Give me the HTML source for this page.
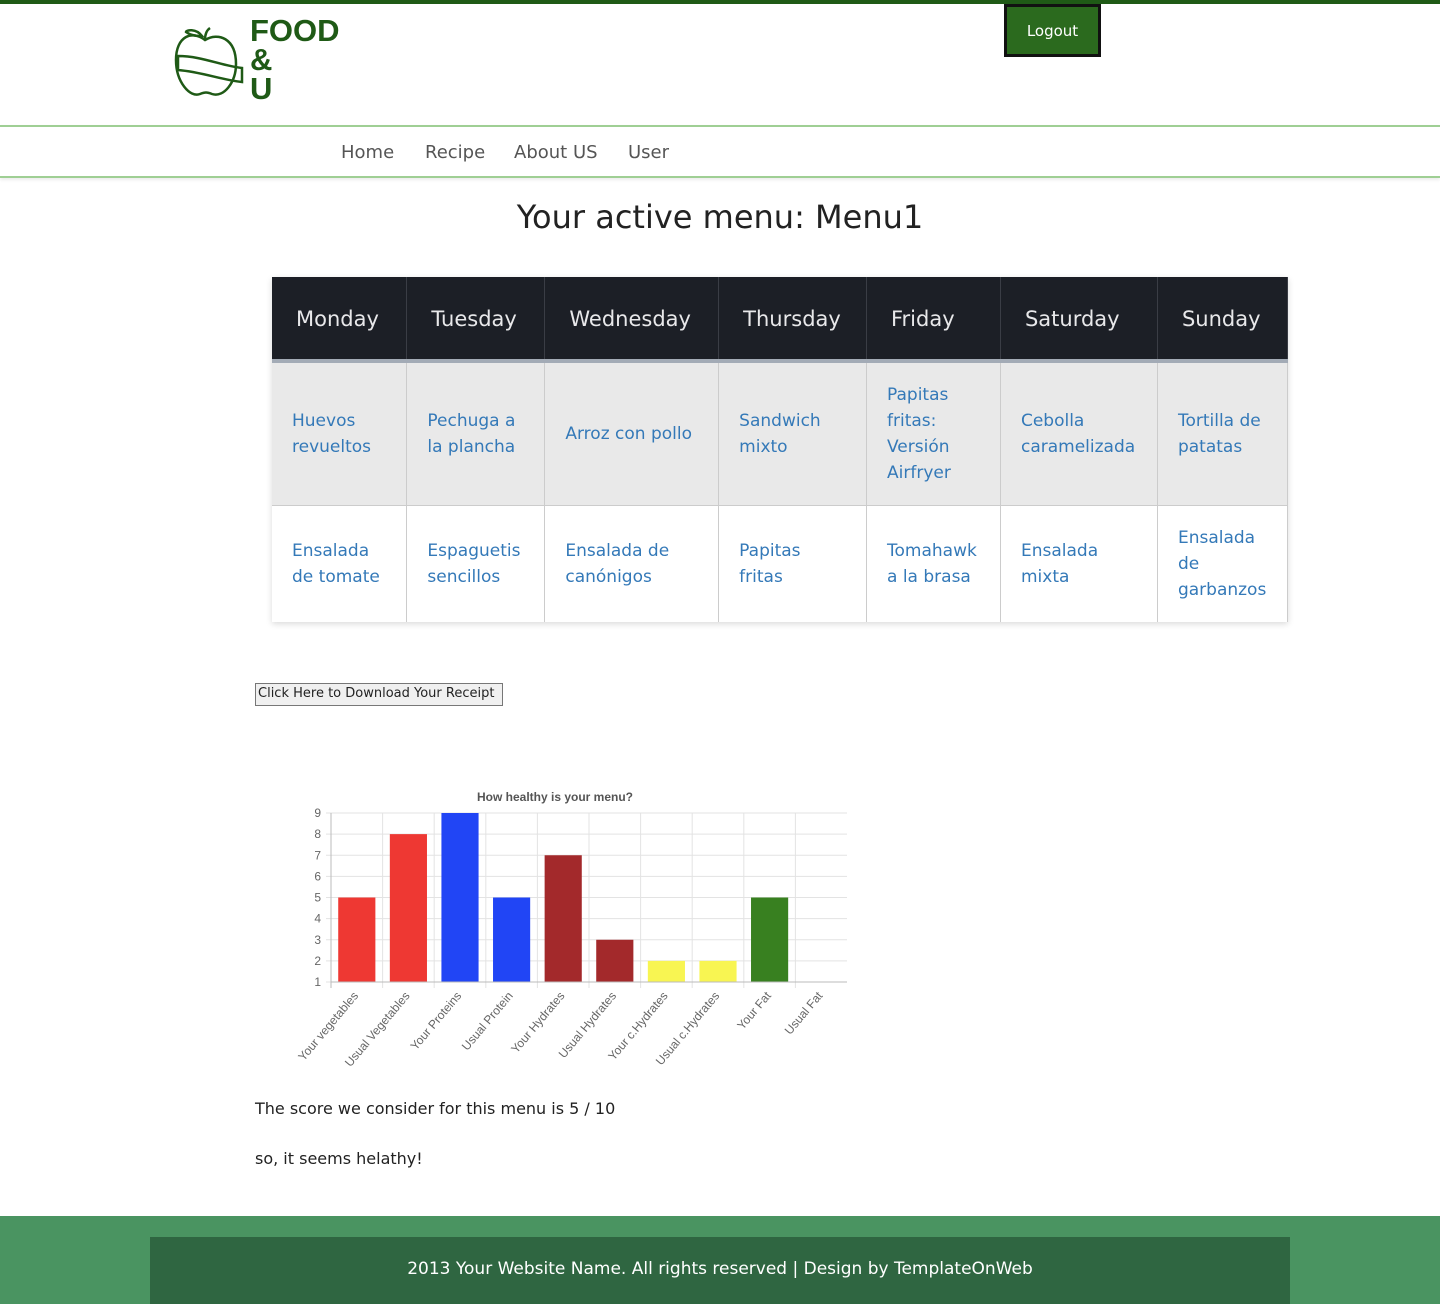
<!DOCTYPE html>
<html><head><meta charset="utf-8">
<style>
*{box-sizing:border-box;margin:0;padding:0}
body{width:1440px;height:1304px;position:relative;background:#fff;font-family:"DejaVu Sans","Liberation Sans",sans-serif;color:#333;overflow:hidden}
.abs{position:absolute}
.topbar{left:0;top:0;width:1440px;height:4px;background:#1f5a16}
.logout{left:1004px;top:4px;width:97px;height:53px;background:#2b6a1e;border:3px solid #111;color:#fff;font-size:15px;display:flex;align-items:center;justify-content:center}
.nav{left:0;top:125px;width:1440px;height:53px;border-top:2px solid #9fcf94;border-bottom:2px solid #9fcf94;box-shadow:0 2px 3px rgba(0,0,0,.08)}
.nav a{position:absolute;top:15px;font-size:18px;color:#555;text-decoration:none}
h1{position:absolute;left:0;width:1440px;top:198px;text-align:center;font-weight:normal;font-size:32px;color:#222}
table{position:absolute;left:272px;top:277px;width:1016px;border-collapse:collapse;box-shadow:0 2px 6px rgba(0,0,0,.15)}
th{background:#1c1f26;color:#e8e8ea;font-weight:normal;font-size:21px;height:84px;border-right:1px solid #3a3d45;border-bottom:4px solid #a3abb6;text-align:left;padding-left:24px;padding-top:2px}
td{font-size:17px;color:#3479b8;line-height:26px;padding:0 20px;border-right:1px solid #ccc;text-align:left}
tr.r1 td{background:#e9e9e9;height:144px;border-bottom:1px solid #ccc}
tr.r2 td{background:#fff;height:117px}
.dl{left:255px;top:683px;width:248px;height:23px;border:1px solid #777;background:#f0f0f0;font-size:13px;color:#222;padding-left:2px;line-height:20px}
.txt{font-size:16px;color:#222}
.footer{left:0;top:1216px;width:1440px;height:88px;background:#4a9461}
.footin{left:150px;top:1237px;width:1140px;height:67px;background:#2f6641;color:#fff;font-size:17px;text-align:center;line-height:64px}
</style></head><body>
<div class="abs topbar"></div>
<svg class="abs" style="left:172px;top:26px" width="75" height="75">
<g fill="none" stroke="#1f5a16" stroke-width="2.5">
<path d="M33 14 C20 4 4 10 4 34 C4 56 18 72 28 68 C33 66 35 66 40 68 C52 72 64 56 64 38 C64 12 46 6 33 14 Z"/>
<path d="M33 14 C33 8 35 4 38 2"/><path d="M30 10 C24 2 14 4 14 6 C20 10 26 10 30 10Z"/>
<path d="M6 30 C30 30 50 40 70 42 L70 56 C50 54 30 46 6 44Z"/>
</g></svg>
<div class="abs" style="left:250px;top:16px;font-size:31px;font-weight:bold;color:#1f5a16;line-height:29px;font-family:'Liberation Sans',sans-serif">FOOD<br>&amp;<br>U</div>
<div class="abs logout">Logout</div>
<div class="abs nav">
<a style="left:341px">Home</a>
<a style="left:425px">Recipe</a>
<a style="left:514px">About US</a>
<a style="left:628px">User</a>
</div>
<h1>Your active menu: Menu1</h1>
<table>
<colgroup><col style="width:135px"><col style="width:138px"><col style="width:174px"><col style="width:148px"><col style="width:134px"><col style="width:157px"><col style="width:130px"></colgroup>
<tr><th>Monday</th><th>Tuesday</th><th>Wednesday</th><th>Thursday</th><th>Friday</th><th>Saturday</th><th>Sunday</th></tr>
<tr class="r1"><td>Huevos revueltos</td><td>Pechuga a la plancha</td><td>Arroz con pollo</td><td>Sandwich mixto</td><td>Papitas fritas: Versión Airfryer</td><td>Cebolla caramelizada</td><td>Tortilla de patatas</td></tr>
<tr class="r2"><td>Ensalada de tomate</td><td>Espaguetis sencillos</td><td>Ensalada de canónigos</td><td>Papitas fritas</td><td>Tomahawk a la brasa</td><td>Ensalada mixta</td><td>Ensalada de garbanzos</td></tr>
</table>
<div class="abs dl">Click Here to Download Your Receipt</div>
<svg class="abs" id="chart" style="left:0;top:0" width="1440" height="1100"></svg>
<div class="abs txt" style="left:255px;top:1099px">The score we consider for this menu is 5 / 10</div>
<div class="abs txt" style="left:255px;top:1149px">so, it seems helathy!</div>
<div class="abs footer"></div>
<div class="abs footin">2013 Your Website Name. All rights reserved | Design by TemplateOnWeb</div>
<script>
const categories=["Your vegetables","Usual Vegetables","Your Proteins","Usual Protein","Your Hydrates","Usual Hydrates","Your c.Hydrates","Usual c.Hydrates","Your Fat","Usual Fat"];
const values=[5,8,9,5,7,3,2,2,5,1];
const colors=["#ee3833","#ee3833","#2145f5","#2145f5","#a3292b","#a3292b","#f8f552","#f8f552","#388020","#388020"];
const yTicks=[1,2,3,4,5,6,7,8,9];
const svg=document.getElementById('chart');
const NS='http://www.w3.org/2000/svg';
const x0=331,x1=847,yTop=813,yBot=982,yMin=1,yMax=9;
const cw=(x1-x0)/categories.length;
const y=v=>yBot-(v-yMin)/(yMax-yMin)*(yBot-yTop);
const xc=i=>x0+cw*(i+0.5);
function mk(t,a){const e=document.createElementNS(NS,t);for(const k in a)e.setAttribute(k,a[k]);svg.appendChild(e);return e;}
let t=mk('text',{x:555,y:801,'text-anchor':'middle','font-size':12,'font-weight':'bold',fill:'#555','font-family':'Liberation Sans, sans-serif'});
t.textContent='How healthy is your menu?';


yTicks.forEach(v=>{
 const l=mk('line',{x1:x0-5,x2:x1,y1:y(v),y2:y(v),stroke:'#e3e3e3'});
 
 
 const tx=mk('text',{x:x0-10,y:y(v)+4,'text-anchor':'end','font-size':12,fill:'#666','font-family':'Liberation Sans, sans-serif'});
 tx.textContent=v;
 
 
});
categories.forEach((c,i)=>{
 const gx=x0+cw*i;
 const g=mk('line',{x1:gx,x2:gx,y1:yTop,y2:yBot+6,stroke:i==0?'#bbb':'#e3e3e3'});
 
 
 const bw=cw*0.72;
 const r=mk('rect',{x:xc(i)-bw/2,y:y(values[i]),width:bw,height:Math.max(0,yBot-y(values[i])),fill:colors[i]});
 
 
 const tx=mk('text',{x:xc(i)+2,y:yBot+14,'text-anchor':'end','font-size':12,fill:'#666','font-family':'Liberation Sans, sans-serif',transform:`rotate(-50 ${xc(i)+2} ${yBot+14})`});
 tx.textContent=c;
 
 
});
const ax=mk('line',{x1:x0,x2:x1,y1:yBot,y2:yBot,stroke:'#bbb'});


</script>
</body></html>
